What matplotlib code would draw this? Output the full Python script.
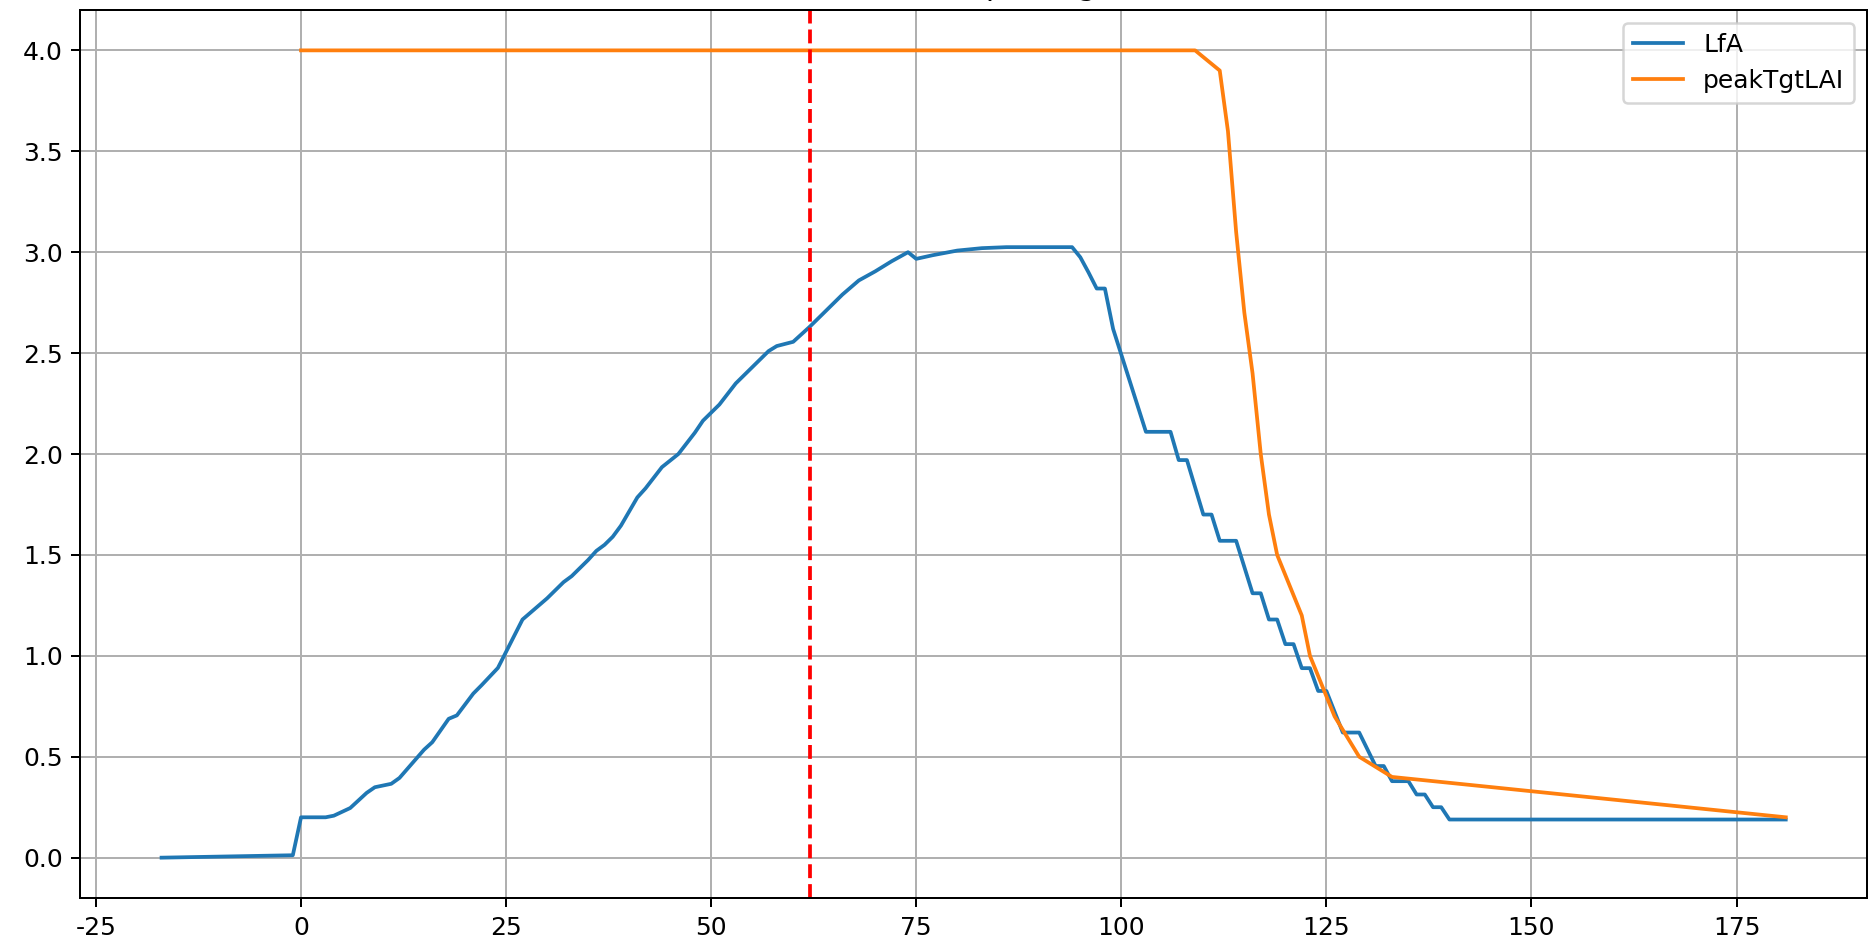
import matplotlib
matplotlib.use("Agg")
import matplotlib.pyplot as plt

# LfA series (day, value)
lfa_days = [-17, -1, 0, 3, 4, 6, 8, 9, 11, 12, 15, 16, 18, 19, 21, 22, 24, 25, 26, 27,
            28, 30, 32, 33, 35, 36, 37, 38, 39, 41, 42, 44, 46, 48, 49, 51, 53, 55, 57, 58,
            60, 62, 64, 66, 68, 70, 72, 74, 75, 77, 80, 83, 86, 94, 95, 96, 97, 98, 99, 103,
            106, 107, 108, 110, 111, 112, 114, 116, 117, 118, 119, 120, 121, 122, 123, 124, 125, 127, 129, 131,
            132, 133, 135, 136, 137, 138, 139, 140, 181]
lfa_vals = [0.0, 0.012, 0.20, 0.20, 0.208, 0.246, 0.321, 0.349, 0.366, 0.395, 0.535, 0.572, 0.688, 0.705, 0.813, 0.854, 0.94, 1.02, 1.10, 1.18,
            1.215, 1.285, 1.365, 1.395, 1.475, 1.52, 1.55, 1.59, 1.645, 1.785, 1.83, 1.935, 2.00, 2.105, 2.165, 2.245, 2.35, 2.43, 2.51, 2.535,
            2.556, 2.63, 2.71, 2.79, 2.86, 2.905, 2.955, 3.0, 2.967, 2.985, 3.008, 3.02, 3.025, 3.025, 2.975, 2.90, 2.82, 2.82, 2.62, 2.11,
            2.11, 1.97, 1.97, 1.70, 1.70, 1.57, 1.57, 1.31, 1.31, 1.18, 1.18, 1.058, 1.058, 0.939, 0.939, 0.826, 0.826, 0.62, 0.62, 0.454,
            0.454, 0.379, 0.379, 0.313, 0.313, 0.25, 0.25, 0.189, 0.189]

# peakTgtLAI series (day, value)
peak_days = [0, 109, 112, 113, 114, 115, 116, 117, 118, 119, 122, 123, 126, 129, 133, 181]
peak_vals = [4.0, 4.0, 3.9, 3.6, 3.1, 2.7, 2.4, 2.0, 1.7, 1.5, 1.2, 1.0, 0.7, 0.5, 0.4, 0.2]

marker_day = 62
title_text = "Leaf Area vs peakTgtLAI"

DPI = 180
fig = plt.figure(figsize=(1869 / DPI, 944 / DPI), dpi=DPI)
ax = fig.add_axes([0.0430, 0.0487, 0.9559, 0.9407])

ax.plot(lfa_days, lfa_vals, label="LfA")
ax.plot(peak_days, peak_vals, label="peakTgtLAI")
ax.axvline(marker_day, color="r", linestyle="--")
ax.grid(True)
ax.set_xticks([-25, 0, 25, 50, 75, 100, 125, 150, 175])
ax.set_xticklabels(["-25", "0", "25", "50", "75", "100", "125", "150", "175"])
ax.legend(loc="upper right")
ax.set_title(title_text)

fig.savefig("out.png", dpi=DPI)
